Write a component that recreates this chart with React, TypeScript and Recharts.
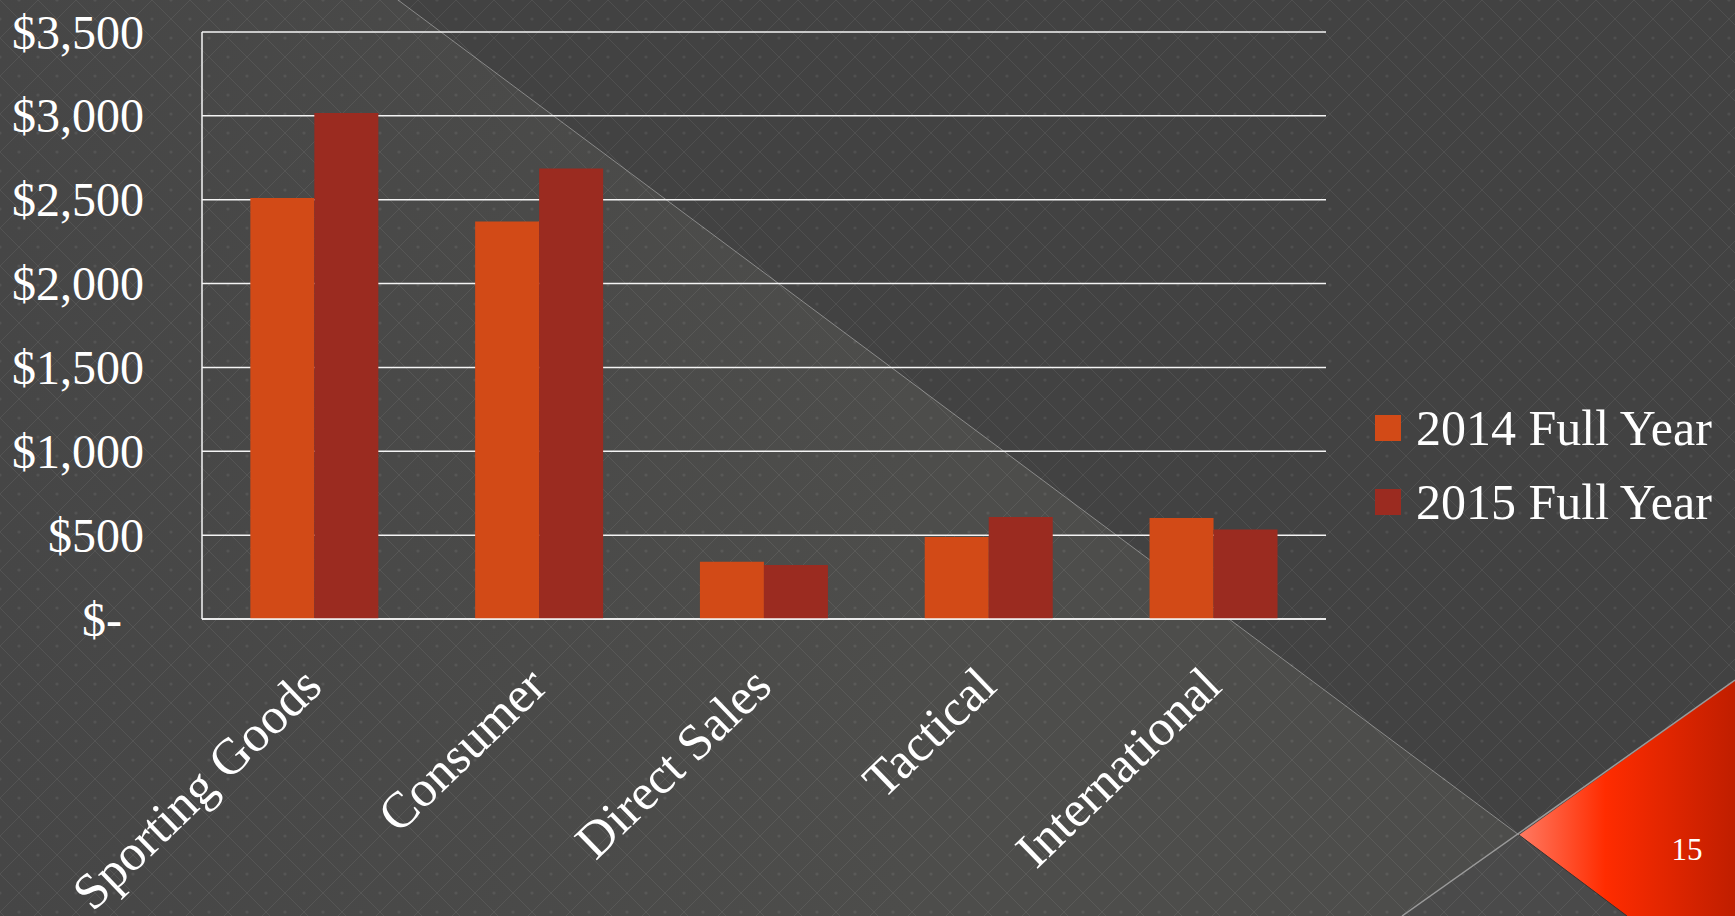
import { BarChart, Bar, XAxis, YAxis, CartesianGrid, Legend } from 'recharts'

const categories = ['Sporting Goods', 'Consumer', 'Direct Sales', 'Tactical', 'International']
const fullYear2014 = [2510, 2370, 342, 489, 602]
const fullYear2015 = [3017, 2686, 322, 608, 533]
const yTicks = [0, 500, 1000, 1500, 2000, 2500, 3000, 3500]
const seriesNames = ['2014 Full Year', '2015 Full Year']
const slideNumber = '15'

const data = categories.map((name, i) => ({
  name,
  y2014: fullYear2014[i],
  y2015: fullYear2015[i],
}))

const ORANGE = '#D24A17'
const RED = '#9B2B20'
const FONT = '"Liberation Serif", "DejaVu Serif", serif'

const money = (v: number) => (v === 0 ? '$-' : `$${v.toLocaleString('en-US')}`)

function YTick({ x, y, payload }: any) {
  const v = payload.value as number
  return (
    <text
      x={x - (v === 0 ? 80 : 58)}
      y={y}
      textAnchor="end"
      dominantBaseline="central"
      fill="#fff"
      fontSize={48}
      fontFamily={FONT}
    >
      {money(v)}
    </text>
  )
}

function XTick({ x, y, payload }: any) {
  const ax = x + 10
  const ay = y + 70
  return (
    <text
      x={ax}
      y={ay}
      transform={`rotate(-44, ${ax}, ${ay})`}
      textAnchor="end"
      fill="#fff"
      fontSize={51}
      fontFamily={FONT}
    >
      {payload.value}
    </text>
  )
}

function LegendBox() {
  const colors = [ORANGE, RED]
  return (
    <div style={{ fontFamily: FONT }}>
      {seriesNames.map((s, i) => (
        <div key={s} style={{ display: 'flex', alignItems: 'center', height: 74 }}>
          <div style={{ width: 26, height: 26, background: colors[i], marginRight: 15 }} />
          <span style={{ color: '#fff', fontSize: 50, lineHeight: '74px', whiteSpace: 'nowrap' }}>{s}</span>
        </div>
      ))}
    </div>
  )
}

function Backdrop() {
  return (
    <svg width={1735} height={916} style={{ position: 'absolute', left: 0, top: 0 }}>
      <defs>
        <pattern id="diamonds" width={38} height={38} patternUnits="userSpaceOnUse">
          <path d="M0 0 L38 38 M38 0 L0 38" stroke="rgba(255,255,255,0.07)" strokeWidth={1} />
          <circle cx={19} cy={0} r={1.6} fill="rgba(255,255,255,0.07)" />
          <circle cx={19} cy={38} r={1.6} fill="rgba(255,255,255,0.07)" />
          <circle cx={0} cy={19} r={1.6} fill="rgba(255,255,255,0.07)" />
          <circle cx={38} cy={19} r={1.6} fill="rgba(255,255,255,0.07)" />
        </pattern>
        <linearGradient id="lightBand" x1="0" y1="0" x2="1" y2="0">
          <stop offset="0%" stopColor="#464646" />
          <stop offset="60%" stopColor="#4d4d4b" />
          <stop offset="100%" stopColor="#4d4d4b" />
        </linearGradient>
        <linearGradient id="tri" x1="1519" y1="0" x2="1735" y2="0" gradientUnits="userSpaceOnUse">
          <stop offset="0%" stopColor="#ff7a62" />
          <stop offset="40%" stopColor="#ff2c00" />
          <stop offset="100%" stopColor="#c01e00" />
        </linearGradient>
      </defs>
      <rect width={1735} height={916} fill="#424242" />
      <polygon points="0,0 398,0 1519,835 1402,916 0,916" fill="url(#lightBand)" />
      <polygon points="1402,916 1519,835 1627,916" fill="#4a4a4a" />
      <rect width={1735} height={916} fill="url(#diamonds)" />
      <line x1={398} y1={0} x2={1519} y2={835} stroke="rgba(220,220,220,0.45)" strokeWidth={1} />
      <polygon points="1519,835 1735,680 1735,916 1627,916" fill="url(#tri)" />
      <line x1={1402} y1={916} x2={1735} y2={680} stroke="#9a9a9a" strokeWidth={1.5} />
      <line x1={1519} y1={835} x2={1627} y2={916} stroke="#333" strokeWidth={1} />
      <text x={1687} y={860} textAnchor="middle" fill="#fff" fontSize={31} fontFamily={FONT}>
        {slideNumber}
      </text>
    </svg>
  )
}

export default function App() {
  return (
    <div style={{ position: 'absolute', left: 0, top: 0, width: 1735, height: 916, overflow: 'hidden' }}>
      <Backdrop />
      <div style={{ position: 'absolute', left: 0, top: 0 }}>
        <BarChart
          width={1735}
          height={916}
          data={data}
          margin={{ top: 32, right: 409, bottom: 0, left: 0 }}
          barGap={0}
          barCategoryGap="21.5%"
        >
          <CartesianGrid horizontal vertical={false} stroke="#f4f4f4" strokeWidth={1.5} />
          <XAxis
            dataKey="name"
            height={297}
            tick={<XTick />}
            tickLine={false}
            tickSize={0}
            tickMargin={0}
            interval={0}
            axisLine={{ stroke: '#f4f4f4', strokeWidth: 1.5 }}
          />
          <YAxis
            width={202}
            domain={[0, 3500]}
            ticks={yTicks}
            tick={<YTick />}
            tickLine={false}
            tickSize={0}
            tickMargin={0}
            axisLine={{ stroke: '#f4f4f4', strokeWidth: 1.5 }}
          />
          <Legend
            layout="horizontal"
            verticalAlign="middle"
            align="center"
            content={<LegendBox />}
            wrapperStyle={{ position: 'absolute', left: 1375, top: 391, width: 360, right: 'auto', bottom: 'auto' }}
          />
          <Bar dataKey="y2014" name={seriesNames[0]} fill={ORANGE} isAnimationActive={false} />
          <Bar dataKey="y2015" name={seriesNames[1]} fill={RED} isAnimationActive={false} />
        </BarChart>
      </div>
    </div>
  )
}
